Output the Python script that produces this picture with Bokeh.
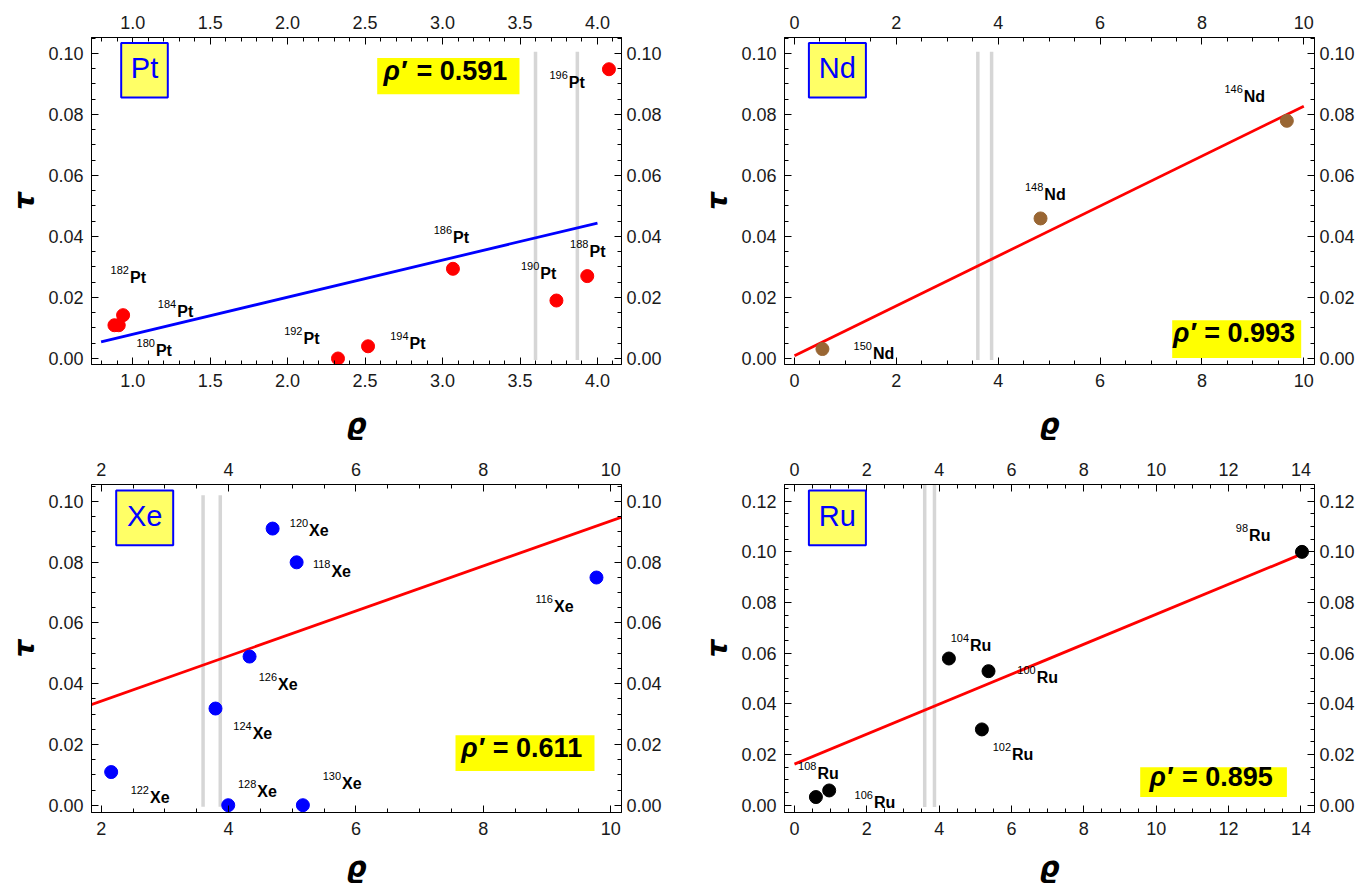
import numpy as np
from bokeh.plotting import figure
from bokeh.models import (Range1d, LinearAxis, FixedTicker, NumeralTickFormatter,
                          BoxAnnotation, Label, ColumnDataSource)
from bokeh.layouts import column, row
from bokeh.embed import file_html
from bokeh.resources import INLINE
from bokeh.core.properties import value

# ---------------- data ----------------
VLINE_RHO = [3.60, 3.87]

PT_ISO = ["180", "182", "184", "186", "188", "190", "192", "194", "196"]
PT_RHO = [0.882, 0.910, 0.938, 3.067, 3.934, 3.735, 2.325, 2.519, 4.074]
PT_TAU = [0.0109, 0.0109, 0.0142, 0.0294, 0.0270, 0.0190, 0.0000, 0.0040, 0.0948]
PT_FIT_RHO = [0.796, 4.00]
PT_FIT_TAU = [0.00546, 0.0444]
PT_RHO_PRIME = "0.591"

ND_ISO = ["146", "148", "150"]
ND_RHO = [9.667, 4.831, 0.549]
ND_TAU = [0.0779, 0.0459, 0.0031]
ND_FIT_RHO = [0.0, 10.0]
ND_FIT_TAU = [0.00087, 0.0827]
ND_RHO_PRIME = "0.993"

XE_ISO = ["116", "118", "120", "122", "124", "126", "128", "130"]
XE_RHO = [9.777, 5.069, 4.692, 2.157, 3.795, 4.330, 3.995, 5.167]
XE_TAU = [0.0749, 0.0799, 0.0910, 0.0109, 0.0318, 0.0489, 0.0000, 0.0000]
XE_FIT_RHO = [1.82, 10.20]
XE_FIT_TAU = [0.0329, 0.0950]
XE_RHO_PRIME = "0.611"

RU_ISO = ["98", "100", "102", "104", "106", "108"]
RU_RHO = [14.03, 5.364, 5.181, 4.269, 0.959, 0.592]
RU_TAU = [0.1000, 0.0529, 0.0299, 0.0579, 0.0058, 0.0032]
RU_FIT_RHO = [0.0, 14.03]
RU_FIT_TAU = [0.0162, 0.0992]
RU_RHO_PRIME = "0.895"

# ---------------- label offsets (px, from each point) ----------------
PT_LBL_DX = [41, 10.7, 53.6, -0.4, 1.7, -16.6, -35, 41, -40.7]
PT_LBL_DY = [29, -43.3, 0.7, -27, -21, -22.6, -15.6, 1.7, 17.4]
ND_LBL_DX = [-43.6, 3.3, 50]
ND_LBL_DY = [-20.7, -19.6, 8.7]
XE_LBL_DX = [-43, 34.3, 36, 38.3, 36.7, 28, 28.6, 38.7]
XE_LBL_DY = [33.4, 13, 6, 29.7, 29, 32, -9.3, -17.3]
RU_LBL_DX = [-53.4, 47.7, 29.6, 20.6, 44.3, 1]
RU_LBL_DY = [-12.7, 10.7, 29, -9, 16, -19.7]
LBL_SHIFT = -4  # baseline correction for rendered text

FONT = "Liberation Sans"

PANELS = [
    dict(el="Pt", iso=PT_ISO, rho=PT_RHO, tau=PT_TAU, fr=PT_FIT_RHO, ft=PT_FIT_TAU,
         rp=PT_RHO_PRIME, dx=PT_LBL_DX, dy=PT_LBL_DY, color="#FF0000", fit="#0000FF",
         w=685, h=455, bl=91, br=64, bt=37, bb=91, xls=18,
         xr=(0.734, 4.155), yr=(-0.00197, 0.1052),
         xt=list(np.arange(1.0, 4.01, 0.5)), xm=list(np.arange(0.8, 4.11, 0.1)), xf="0.0",
         yt=list(np.arange(0, 0.101, 0.02)), ym=list(np.arange(0, 0.1051, 0.005)),
         vspan=(-0.0005, 0.1005),
         ebox=(29.7, 76.3, 267, 321.6), rbox=(285.7, 428, 270.3, 306.6), rtx=(292, 325, 294)),
    dict(el="Nd", iso=ND_ISO, rho=ND_RHO, tau=ND_TAU, fr=ND_FIT_RHO, ft=ND_FIT_TAU,
         rp=ND_RHO_PRIME, dx=ND_LBL_DX, dy=ND_LBL_DY, color="#996633", fit="#FF0000",
         w=686, h=455, bl=99, br=57, bt=37, bb=91, xls=18,
         xr=(-0.196, 10.21), yr=(-0.00197, 0.1052),
         xt=list(np.arange(0, 10.1, 2)), xm=list(np.arange(0, 10.1, 0.5)), xf="0",
         yt=list(np.arange(0, 0.101, 0.02)), ym=list(np.arange(0, 0.1051, 0.005)),
         vspan=(-0.0005, 0.1005),
         ebox=(24.4, 81.4, 267, 321.6), rbox=(387.7, 516.7, 6.6, 44.3), rtx=(388.4, 419.7, 31.2)),
    dict(el="Xe", iso=XE_ISO, rho=XE_RHO, tau=XE_TAU, fr=XE_FIT_RHO, ft=XE_FIT_TAU,
         rp=XE_RHO_PRIME, dx=XE_LBL_DX, dy=XE_LBL_DY, color="#0000FF", fit="#FF0000",
         w=685, h=434, bl=91, br=64, bt=29, bb=77, xls=13,
         xr=(1.848, 10.17), yr=(-0.0024, 0.1055),
         xt=list(np.arange(2, 10.1, 2)), xm=list(np.arange(2, 10.1, 0.5)), xf="0",
         yt=list(np.arange(0, 0.101, 0.02)), ym=list(np.arange(0, 0.1051, 0.005)),
         vspan=(-0.0005, 0.102),
         ebox=(24.7, 81.7, 267.3, 322), rbox=(364, 503, 41.6, 77.3), rtx=(369.7, 401.3, 64.5)),
    dict(el="Ru", iso=RU_ISO, rho=RU_RHO, tau=RU_TAU, fr=RU_FIT_RHO, ft=RU_FIT_TAU,
         rp=RU_RHO_PRIME, dx=RU_LBL_DX, dy=RU_LBL_DY, color="#000000", fit="#FF0000",
         w=686, h=434, bl=99, br=57, bt=29, bb=77, xls=13,
         xr=(-0.276, 14.376), yr=(-0.0029, 0.1266),
         xt=list(np.arange(0, 14.1, 2)), xm=list(np.arange(0, 14.1, 0.5)), xf="0",
         yt=list(np.arange(0, 0.121, 0.02)), ym=list(np.arange(0, 0.1251, 0.005)),
         vspan=(-0.0007, 0.14),
         ebox=(24.4, 81.4, 267.3, 322), rbox=(355.7, 502.4, 15.6, 45.3), rtx=(365, 397.4, 35.8)),
]


def style_axis(ax, ticks, minor, fmt):
    ax.ticker = FixedTicker(ticks=ticks, minor_ticks=minor)
    ax.formatter = NumeralTickFormatter(format=fmt)
    ax.major_tick_in = 7
    ax.major_tick_out = 0
    ax.minor_tick_in = 4
    ax.minor_tick_out = 0
    ax.axis_line_color = "black"
    ax.major_tick_line_color = "black"
    ax.minor_tick_line_color = "black"
    ax.major_label_text_font = FONT
    ax.major_label_text_font_size = "18px"
    ax.major_label_text_color = "#1a1a1a"
    ax.axis_label_text_font = "DejaVu Sans"
    ax.axis_label_text_font_style = "bold italic"
    ax.axis_label_text_font_size = "28px"
    ax.axis_label_text_color = "black"


def build(s):
    p = figure(width=s["w"], height=s["h"], output_backend="svg", toolbar_location=None,
               x_range=Range1d(*s["xr"]), y_range=Range1d(*s["yr"]),
               min_border_left=s["bl"], min_border_right=s["br"],
               min_border_top=s["bt"], min_border_bottom=s["bb"])
    p.frame_align = False
    p.xgrid.visible = False
    p.ygrid.visible = False
    p.outline_line_color = "black"
    p.background_fill_color = "white"
    p.border_fill_color = "white"
    p.add_layout(LinearAxis(), "above")
    p.add_layout(LinearAxis(), "right")
    for ax in p.xaxis:
        style_axis(ax, s["xt"], s["xm"], s["xf"])
    for ax in p.yaxis:
        style_axis(ax, s["yt"], s["ym"], "0.00")
    p.below[0].major_label_standoff = 9
    p.above[0].major_label_standoff = 9
    p.left[0].major_label_standoff = 8
    p.right[0].major_label_standoff = 5
    p.below[0].axis_label = "ϱ"
    p.below[0].axis_label_standoff = s["xls"]
    p.left[0].axis_label = "τ"
    p.left[0].axis_label_standoff = 4

    # gray reference lines
    n = len(VLINE_RHO)
    p.segment(x0=VLINE_RHO, x1=VLINE_RHO, y0=[s["vspan"][0]] * n, y1=[s["vspan"][1]] * n,
              line_color="#D6D6D6", line_width=3.5)
    # fit line
    p.line(s["fr"], s["ft"], line_color=s["fit"], line_width=2.8)
    # points
    src = ColumnDataSource(dict(rho=s["rho"], tau=s["tau"], iso=s["iso"],
                                el=[s["el"]] * len(s["iso"]),
                                dxm=[d + 0.5 for d in s["dx"]], dxs=[d - 0.5 for d in s["dx"]],
                                dym=[d + LBL_SHIFT for d in s["dy"]],
                                dys=[d + LBL_SHIFT - 7.5 for d in s["dy"]]))
    p.scatter("rho", "tau", source=src, size=13, fill_color=s["color"], line_color=s["color"])
    p.text("rho", "tau", text="el", source=src, x_offset="dxm", y_offset="dym",
           text_align="left", text_baseline="alphabetic", text_font=value(FONT),
           text_font_style="bold", text_font_size="16px", text_color="black")
    p.text("rho", "tau", text="iso", source=src, x_offset="dxs", y_offset="dys",
           text_align="right", text_baseline="alphabetic", text_font=value(FONT),
           text_font_size="11px", text_color="black")

    # element box
    l, r, b, t = s["ebox"]
    p.add_layout(BoxAnnotation(left=l, right=r, bottom=b, top=t, left_units="screen",
                               right_units="screen", bottom_units="screen", top_units="screen",
                               fill_color="#FFFF66", fill_alpha=1, line_color="#0000FF",
                               line_width=2, line_alpha=1, level="annotation"))
    p.add_layout(Label(x=(l + r) / 2, y=(b + t) / 2 + 2, x_units="screen", y_units="screen",
                       text=s["el"], text_align="center", text_baseline="middle",
                       text_font=FONT, text_font_size="29px", text_color="#0000FF"))
    # rho' box
    l, r, b, t = s["rbox"]
    p.add_layout(BoxAnnotation(left=l, right=r, bottom=b, top=t, left_units="screen",
                               right_units="screen", bottom_units="screen", top_units="screen",
                               fill_color="#FFFF00", fill_alpha=1, line_alpha=0,
                               level="annotation"))
    xr0, xe0, yc = s["rtx"]
    p.add_layout(Label(x=xr0, y=yc, x_units="screen", y_units="screen", text="ρ′",
                       text_align="left", text_baseline="middle", text_font=FONT,
                       text_font_style="bold italic", text_font_size="27px", text_color="black"))
    p.add_layout(Label(x=xe0, y=yc, x_units="screen", y_units="screen", text="= " + s["rp"],
                       text_align="left", text_baseline="middle", text_font=FONT,
                       text_font_style="bold", text_font_size="27px", text_color="black"))
    return p


figs = [build(s) for s in PANELS]
page = column(row(figs[0], figs[1]), row(figs[2], figs[3]))

with open("out.html", "w") as f:
    f.write(file_html(page, INLINE))
